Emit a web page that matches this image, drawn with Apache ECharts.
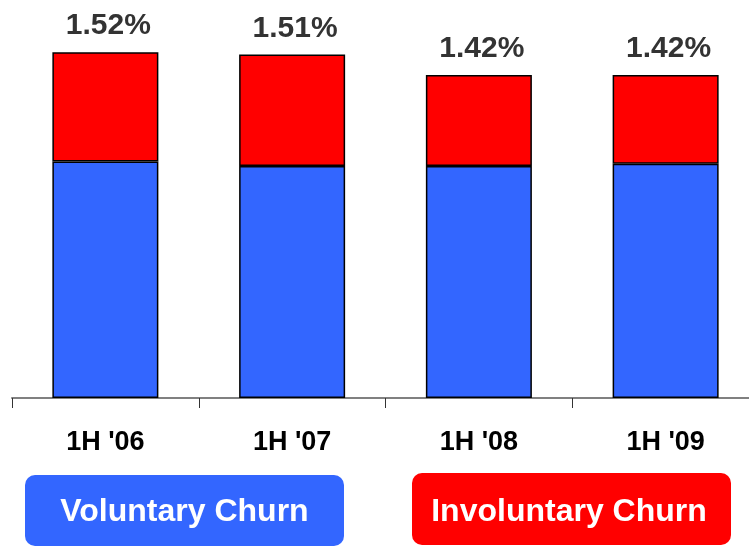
<!DOCTYPE html>
<html>
<head>
<meta charset="utf-8">
<script src="https://cdn.jsdelivr.net/npm/echarts@6/dist/echarts.min.js"></script>
<style>
  html, body { margin: 0; padding: 0; background: #ffffff; overflow: hidden; }
  /* the plot runs slightly past the right edge of the page */
  #chart { width: 759px; height: 546px; }
</style>
</head>
<body>
<div id="chart"></div>
<script>
// Half-year churn rates (percent per month), split into voluntary and involuntary parts
const periods = ["1H '06", "1H '07", "1H '08", "1H '09"];
const voluntaryChurn = [1.04, 1.02, 1.02, 1.03];
const involuntaryChurn = [0.48, 0.49, 0.40, 0.39];
const legendNames = ['Voluntary Churn', 'Involuntary Churn'];

const BLUE = '#3366FF';
const RED = '#FF0000';
const FONT = '"Liberation Sans", Arial, sans-serif';

function totalAt(i) {
  return voluntaryChurn[i] + involuntaryChurn[i];
}

const chart = echarts.init(document.getElementById('chart'), null, { renderer: 'canvas' });

chart.setOption({
  animation: false,
  backgroundColor: '#ffffff',
  grid: { left: 12, right: 0, top: 34, bottom: 148, containLabel: false },
  xAxis: {
    type: 'category',
    data: periods,
    boundaryGap: true,
    axisLine: { show: true, lineStyle: { color: '#808080', width: 2 } },
    axisTick: { show: true, length: 10, lineStyle: { color: '#333333', width: 1 } },
    axisLabel: {
      color: '#000000',
      fontFamily: FONT,
      fontWeight: 'bold',
      fontSize: 27,
      margin: 31
    },
    splitLine: { show: false }
  },
  yAxis: {
    type: 'value',
    min: 0,
    max: 1.6,
    show: false
  },
  series: [
    {
      name: legendNames[0],
      type: 'bar',
      stack: 'churn',
      barWidth: 106,
      data: voluntaryChurn,
      itemStyle: { color: BLUE, borderColor: '#000000', borderWidth: 1.5 }
    },
    {
      name: legendNames[1],
      type: 'bar',
      stack: 'churn',
      barWidth: 106,
      data: involuntaryChurn,
      itemStyle: { color: RED, borderColor: '#000000', borderWidth: 1.5 },
      label: {
        show: true,
        position: 'top',
        distance: 11,
        offset: [3, 0],
        color: '#333333',
        fontFamily: FONT,
        fontWeight: 'bold',
        fontSize: 30,
        formatter: (p) => totalAt(p.dataIndex).toFixed(2) + '%'
      }
    }
  ],
  graphic: [
    {
      type: 'group',
      left: 25,
      top: 475,
      children: [
        {
          type: 'rect',
          shape: { x: 0, y: 0, width: 319, height: 71, r: 10 },
          style: { fill: BLUE }
        },
        {
          type: 'text',
          x: 159.5,
          y: 37,
          style: {
            text: legendNames[0],
            fill: '#ffffff',
            font: 'bold 32px ' + FONT,
            textAlign: 'center',
            textVerticalAlign: 'middle'
          }
        }
      ]
    },
    {
      type: 'group',
      left: 412,
      top: 473,
      children: [
        {
          type: 'rect',
          shape: { x: 0, y: 0, width: 319, height: 72, r: 10 },
          style: { fill: RED }
        },
        {
          type: 'text',
          x: 157,
          y: 39,
          style: {
            text: legendNames[1],
            fill: '#ffffff',
            font: 'bold 32px ' + FONT,
            textAlign: 'center',
            textVerticalAlign: 'middle'
          }
        }
      ]
    }
  ]
});
</script>
</body>
</html>
